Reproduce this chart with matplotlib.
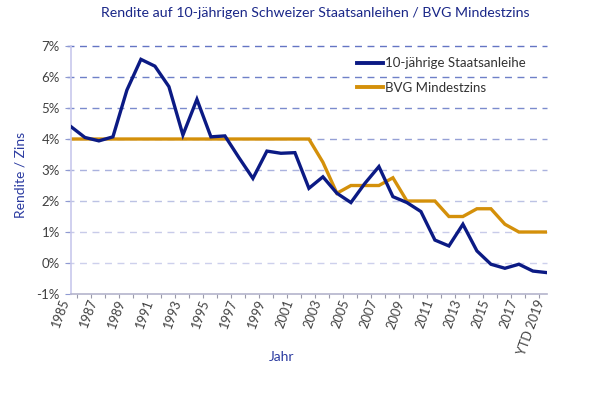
import matplotlib
matplotlib.use("Agg")
import matplotlib.pyplot as plt
import numpy as np

years = list(range(1985, 2020))
staatsanleihe = [4.40, 4.05, 3.94, 4.07, 5.58, 6.57, 6.35, 5.69, 4.13, 5.28,
                 4.07, 4.10, 3.40, 2.73, 3.61, 3.54, 3.56, 2.41, 2.78, 2.25,
                 1.95, 2.57, 3.11, 2.14, 1.95, 1.66, 0.74, 0.55, 1.25, 0.39,
                 -0.04, -0.17, -0.04, -0.26, -0.31]
bvg = [4.0] * 18 + [3.25, 2.25, 2.5, 2.5, 2.5, 2.75, 2.0, 2.0, 2.0, 1.5, 1.5,
                    1.75, 1.75, 1.25, 1.0, 1.0, 1.0]
tick_years = list(range(1985, 2020, 2))
tick_labels = [str(y) for y in tick_years[:-1]] + ["YTD 2019"]
y_ticks = [-1, 0, 1, 2, 3, 4, 5, 6, 7]

plt.rcParams['font.family'] = ['Lato', 'DejaVu Sans']

fig = plt.figure(figsize=(6.01, 3.94), dpi=100)
ax = fig.add_axes([0.118, 0.2538, 0.792, 0.6294])

grid_colors = {7: '#6475c4', 6: '#6f80c8', 5: '#7b8bcd', 4: '#95a0d6',
               3: '#aab2de', 2: '#bcc2e4', 1: '#c8cbe9', 0: '#cdd0ec', -1: '#d0d2ec'}
for v in y_ticks[1:]:
    ax.axhline(v, color=grid_colors[v], lw=1.0, ls=(0, (5, 4)), zorder=1, xmin=-0.008,
               clip_on=False)

navy = '#0b1a84'
gold = '#d4900a'
ax.plot(years, staatsanleihe, color=navy, lw=2.4, label='10-jährige Staatsanleihe', zorder=3,
        solid_joinstyle='miter')
ax.plot(years, bvg, color=gold, lw=2.4, label='BVG Mindestzins', zorder=2,
        solid_joinstyle='miter')

ax.set_xlim(1985, 2019)
ax.set_ylim(-1, 7)
ax.set_yticks(y_ticks)
ax.set_yticklabels([f"{v}%" for v in y_ticks], fontsize=9.5, color='#404040')
ax.set_xticks(tick_years)
ax.set_xticklabels(tick_labels, rotation=70, ha='right', va='top', fontsize=9.2,
                   color='#404040')
ax.tick_params(axis='x', length=0, pad=3)
ax.set_xticks([y + 0.43 for y in years[:-1]], minor=True)
ax.tick_params(axis='x', which='minor', length=3, color='#9a9aaa', width=0.8)
ax.tick_params(axis='y', length=4, color='#8f9ad2', width=0.8, pad=4)

for s in ['top', 'right']:
    ax.spines[s].set_visible(False)
ax.spines['left'].set_color('#c8c8ec')
ax.spines['left'].set_linewidth(1.2)
ax.spines['bottom'].set_color('#b4b4cc')
ax.spines['bottom'].set_linewidth(1.2)

fig.text(0.524, 0.968, 'Rendite auf 10-jährigen Schweizer Staatsanleihen / BVG Mindestzins',
         ha='center', va='center', fontsize=10.2, color='#1a2788')
fig.text(0.034, 0.555, 'Rendite / Zins', rotation=90, ha='center', va='center',
         fontsize=10, color='#2a3aa0')
fig.text(0.469, 0.094, 'Jahr', ha='center', va='center', fontsize=10, color='#2a3aa0')

leg = ax.legend(loc='upper left', bbox_to_anchor=(0.59, 0.975), frameon=False,
                fontsize=9.5, handlelength=2.0, handletextpad=0.15, labelspacing=0.95,
                borderaxespad=0)
for line in leg.get_lines():
    line.set_linewidth(2.8)
for t in leg.get_texts():
    t.set_color('#333333')

fig.savefig('out.png', dpi=100)
